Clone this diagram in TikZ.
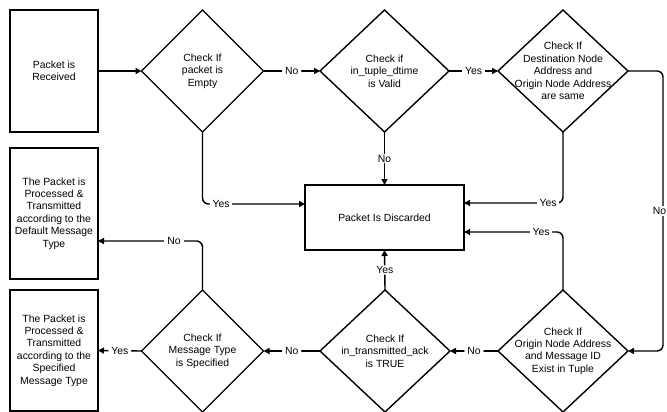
\documentclass[tikz,border=0pt]{standalone}
\usepackage{fontspec}
\setmainfont{Liberation Sans}
\usetikzlibrary{arrows.meta,shapes.geometric,calc}
\begin{document}
\begin{tikzpicture}[x=1pt,y=-1pt,
  base/.style={font=\fontsize{10.4}{12.4}\selectfont, text=black},
  box/.style={base, draw, line width=1.4pt, rectangle, align=center, outer sep=0pt, inner sep=0pt, anchor=north west},
  dia/.style={draw, line width=1.4pt, diamond, outer sep=0pt, inner sep=0pt, minimum height=122pt},
  dtext/.style={base, align=center, inner sep=0pt},
  conn/.style={draw, line width=1.4pt, rounded corners=6pt, -{Triangle[length=6pt,width=6pt]}},
  lab/.style={base, fill=white, inner xsep=3pt, inner ysep=1pt}
]
\useasboundingbox (0,0) rectangle (667,412);
% boxes
\node[box, minimum width=88pt, minimum height=122pt] (b1) at (10,10) {Packet is\\Received};
\node[box, minimum width=88pt, minimum height=131pt] (b2) at (10,148) {The Packet is\\Processed \&\\Transmitted\\according to the\\Default Message\\Type};
\node[box, minimum width=88pt, minimum height=121pt] (b3) at (10,290) {The Packet is\\Processed \&\\Transmitted\\according to the\\Specified\\Message Type};
\node[box, minimum width=159pt, minimum height=65pt] (disc) at (305,185) {Packet Is Discarded};
% diamonds
\node[dia, minimum width=122pt] (d1) at (202.5,71) {};
\node[dtext] (t1) at (d1.center) {Check If\\packet is\\Empty};
\node[dia, minimum width=129pt] (d2) at (384.5,71) {};
\node[dtext] (t2) at (d2.center) {Check if\\in\_tuple\_dtime\\is Valid};
\node[dia, minimum width=130pt] (d3) at (563,71) {};
\node[dtext] (t3) at (d3.center) {Check If\\Destination Node\\Address and\\Origin Node Address\\are same};
\node[dia, minimum width=122pt] (d4) at (202.5,351) {};
\node[dtext] (t4) at (d4.center) {Check If\\Message Type\\is Specified};
\node[dia, minimum width=130pt] (d5) at (385,351) {};
\node[dtext] (t5) at (d5.center) {Check If\\in\_transmitted\_ack\\is TRUE};
\node[dia, minimum width=130pt] (d6) at (563,351) {};
\node[dtext] (t6) at (d6.center) {Check If\\Origin Node Address\\and Message ID\\Exist in Tuple};
% connectors
\draw[conn] (b1.east) -- (d1.west);
\draw[conn] (d1.east) -- (d2.west) node[lab, midway] (l1) {No};
\draw[conn] (d2.east) -- (d3.west) node[lab, midway] (l2) {Yes};
\draw[conn] (d2.south) -- (disc.north) node[lab, midway] (l3) {No};
\draw[conn] (d1.south) |- ($(disc.north west)+(0,19)$);
\node[lab] (l4) at (221,204) {Yes};
\draw[conn] (d3.south) |- ($(disc.north east)+(0,18)$);
\node[lab] (l5) at (548,203) {Yes};
\draw[conn] (d3.east) -- ++(35,0) |- (d6.east);
\node[lab, inner xsep=1pt] (l6) at (659.5,211) {No};
\draw[conn] (d6.north) |- ($(disc.north east)+(0,47)$);
\node[lab] (l7) at (541,232) {Yes};
\draw[conn] (d6.west) -- (d5.east) node[lab, midway] (l8) {No};
\draw[conn] (d5.north) -- (disc.south) node[lab, midway] (l9) {Yes};
\draw[conn] (d5.west) -- (d4.east) node[lab, midway] (l10) {No};
\draw[conn] (d4.west) -- (b3.east) node[lab, midway] (l11) {Yes};
\draw[conn] (d4.north) |- ($(b2.north east)+(0,93)$);
\node[lab] (l12) at (174,241) {No};
\end{tikzpicture}
\end{document}
